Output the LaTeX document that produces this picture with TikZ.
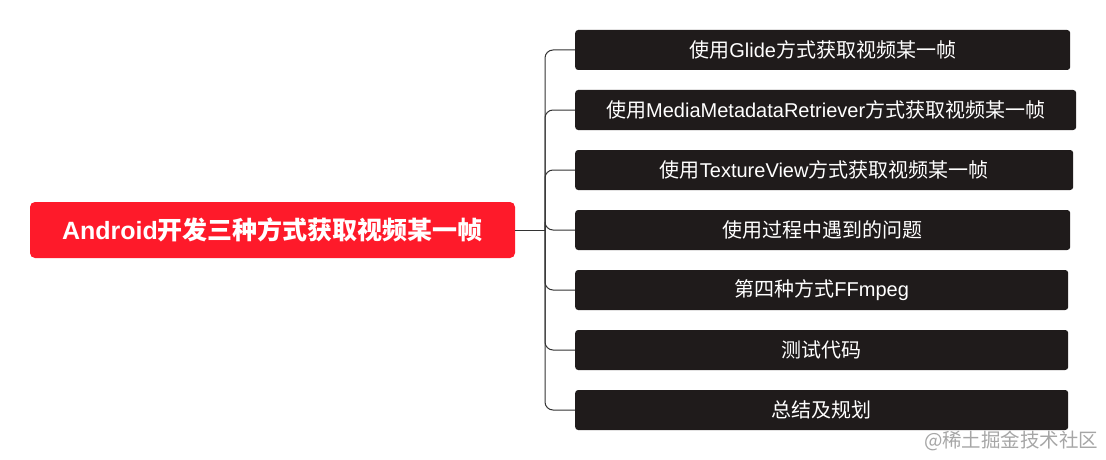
\documentclass[tikz,border=0pt]{standalone}
\usepackage{fontspec}
\setmainfont{Liberation Sans}
\newfontfamily\cjk{Noto Sans CJK SC}
\newfontfamily\latin{Liberation Sans}
\usetikzlibrary{positioning,calc}
\definecolor{rootred}{HTML}{FE1A2A}
\definecolor{leafdark}{HTML}{1F1B1B}
\definecolor{wire}{HTML}{333333}
\definecolor{markgray}{HTML}{A6A6A6}

\begin{document}
\begin{tikzpicture}[
    x=1pt,
    y=-1pt,
    root/.style ={
        fill=rootred,
        text=white,
        rounded corners=5pt,
        minimum width=485pt,
        minimum height=56pt,
        inner sep=0pt,
        font=\cjk\bfseries\fontsize{25}{25}\selectfont
    },
    leaf/.style ={
        fill=leafdark,
        text=white,
        rounded corners=3pt,
        minimum height=40pt,
        inner sep=0pt,
        anchor=west,
        font=\cjk\fontsize{20}{20}\selectfont
    },
    link/.style ={
        draw=wire,
        line width=1pt,
        rounded corners=8pt
    }
    ]
    \useasboundingbox (0,0) rectangle (1106,460);

    \node[root] (root) at (272.5,230) {{\latin\bfseries Android}开发三种方式获取视频某一帧};
    \coordinate (hub) at (545,230);

    \foreach \name/ \y/ \w/ \txt in {
        glide/50/495/{使用{\latin Glide}方式获取视频某一帧},
        mmr/110/501/{使用{\latin MediaMetadataRetriever}方式获取视频某一帧},
        tex/170/498/{使用{\latin TextureView}方式获取视频某一帧},
        issue/230/495/{使用过程中遇到的问题},
        ffm/290/493/{第四种方式{\latin FFmpeg}},
        test/350/493/{测试代码},
        plan/410/493/{总结及规划}}{
        \node[leaf,minimum width=\w pt] (\name) at (575,\y) {\txt};
        \draw[link] (hub) |- (\name.west);
    };

    \draw[link] (root.east) -- (hub);

    \node[text=markgray,anchor=east,font=\cjk\fontsize{19.5}{19.5}\selectfont] (mark) at (1102,441) {@稀土掘金技术社区};
\end{tikzpicture}
\end{document}
